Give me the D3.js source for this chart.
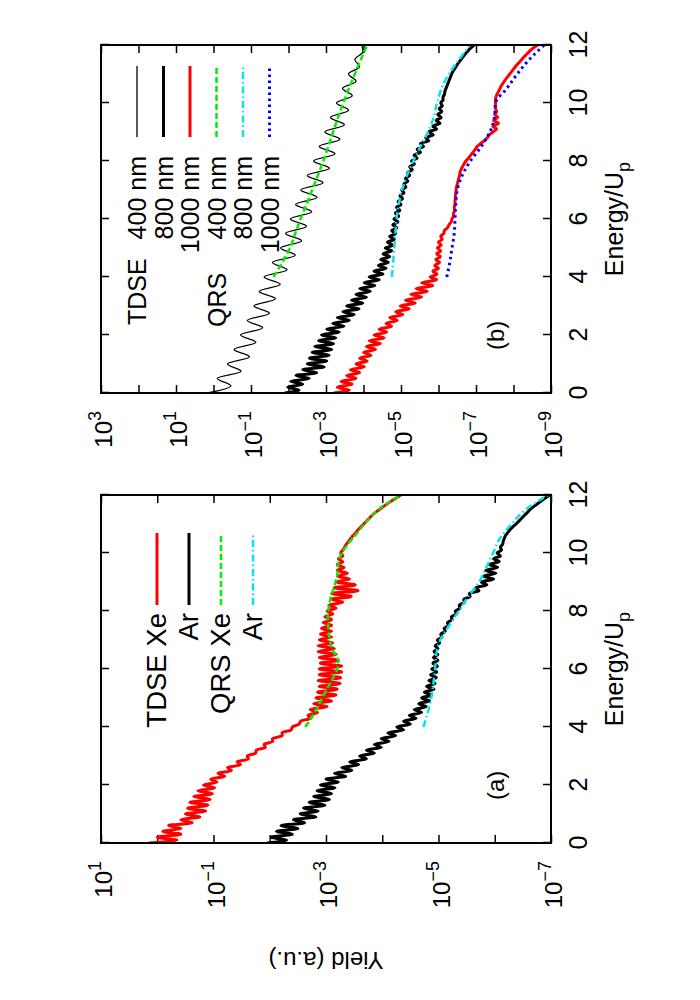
<!DOCTYPE html>
<html>
<head>
<meta charset="utf-8">
<script src="https://cdn.jsdelivr.net/npm/d3@7"></script>
<style>
  body { margin: 0; background: #fff; }
  svg { display: block; }
  text { font-family: "Liberation Sans", Arial, sans-serif; fill: #000; }
</style>
</head>
<body>
<div id="chart"></div>
<script>
// ---- data (yield given as log10 exponent) ----
var energyTicks = [0, 2, 4, 6, 8, 10, 12];
var decadesA = [1, 0, -1, -2, -3, -4, -5, -6, -7];
var labelExpA = [1, -1, -3, -5, -7];
var decadesB = [3, 2, 1, 0, -1, -2, -3, -4, -5, -6, -7, -8, -9];
var labelExpB = [3, 1, -1, -3, -5, -7, -9];

var TDSE_STEP = 0.1;      // energy step of the TDSE curves (Up)
var TDSE400_STEP = 0.25;  // 400 nm curve
var QRS_START = 4;
var QRS_STEP = 0.5;
var QRS_XE_STEP = 0.25;

// panel (a)
var tdseXe = [0.15,-0.35,0.0,-0.42,-0.1,-0.42,-0.2,-0.62,-0.42,-0.76,
  -0.5,-0.86,-0.54,-0.9,-0.58,-0.94,-0.65,-0.98,-0.72,-1.02,
  -0.82,-1.06,-0.95,-1.2,-1.08,-1.32,-1.25,-1.48,-1.42,-1.62,
  -1.6,-1.75,-1.76,-1.92,-1.9,-2.05,-2.05,-2.22,-2.22,-2.38,
  -2.4,-2.52,-2.55,-2.72,-2.68,-2.85,-2.72,-3.02,-2.78,-3.1,
  -2.82,-3.18,-2.85,-3.2,-2.88,-3.25,-2.86,-3.26,-2.88,-3.28,
  -2.88,-3.28,-2.9,-3.22,-2.88,-3.18,-2.86,-3.15,-2.86,-3.12,
  -2.88,-3.1,-2.9,-3.1,-2.92,-3.1,-2.95,-3.1,-2.98,-3.12,
  -3.02,-3.18,-3.05,-3.3,-3.1,-3.45,-3.1,-3.57,-3.15,-3.52,
  -3.18,-3.42,-3.2,-3.38,-3.2,-3.32,-3.2,-3.3,-3.22,-3.3,
  -3.26,-3.3,-3.33,-3.36,-3.4,-3.44,-3.48,-3.53,-3.57,-3.62,
  -3.67,-3.72,-3.77,-3.82,-3.88,-3.95,-4.02,-4.09,-4.17,-4.25,
  -4.33];
var tdseAr = [-1.95,-2.3,-2.02,-2.4,-2.12,-2.5,-2.2,-2.62,-2.42,-2.82,
  -2.54,-2.86,-2.6,-2.98,-2.7,-3.06,-2.78,-3.1,-2.84,-3.16,
  -2.9,-3.22,-3.0,-3.35,-3.15,-3.46,-3.28,-3.58,-3.42,-3.72,
  -3.6,-3.86,-3.72,-3.98,-3.86,-4.12,-3.98,-4.24,-4.1,-4.38,
  -4.26,-4.5,-4.38,-4.6,-4.48,-4.7,-4.57,-4.78,-4.65,-4.84,
  -4.7,-4.88,-4.75,-4.92,-4.79,-4.94,-4.83,-4.96,-4.86,-4.97,
  -4.88,-4.98,-4.9,-4.99,-4.91,-4.99,-4.92,-4.99,-4.94,-5.02,
  -4.98,-5.06,-5.04,-5.12,-5.1,-5.18,-5.16,-5.24,-5.23,-5.32,
  -5.3,-5.38,-5.37,-5.46,-5.45,-5.56,-5.55,-5.72,-5.66,-5.86,
  -5.76,-5.98,-5.8,-6.02,-5.84,-6.05,-5.9,-6.08,-5.98,-6.1,
  -6.04,-6.12,-6.1,-6.14,-6.15,-6.17,-6.19,-6.23,-6.27,-6.32,
  -6.38,-6.43,-6.48,-6.53,-6.58,-6.63,-6.69,-6.76,-6.83,-6.9,
  -6.98];
var qrsXe = [-2.63,-2.72,-2.8,-2.87,-2.93,-3.0,-3.07,-3.14,-3.2,-3.22,-3.16,
  -3.1,-3.07,-3.05,-3.04,-3.03,-3.04,-3.06,-3.09,-3.13,-3.17,-3.2,
  -3.21,-3.23,-3.28,-3.37,-3.47,-3.58,-3.68,-3.8,-3.93,-4.12,-4.35];
var qrsAr = [-4.73,-4.81,-4.87,-4.91,-4.94,-4.96,-5.03,-5.19,-5.36,-5.53,
  -5.72,-5.85,-5.97,-6.09,-6.3,-6.55,-6.95];

// panel (b)
var tdse400 = [0.17,-0.465,-0.1,-0.735,-0.37,-0.96,-0.55,-1.13,-0.72,-1.31,
  -0.9,-1.49,-1.08,-1.65,-1.22,-1.78,-1.35,-1.96,-1.57,-2.18,
  -1.79,-2.35,-1.92,-2.48,-2.05,-2.62,-2.19,-2.76,-2.33,-2.92,
  -2.5,-3.09,-2.67,-3.24,-2.82,-3.37,-2.97,-3.49,-3.12,-3.6,
  -3.28,-3.7,-3.44,-3.8,-3.6,-3.89,-3.77,-3.98,-3.95];
var tdse800 = [-1.9,-2.28,-1.98,-2.38,-2.06,-2.55,-2.2,-2.75,-2.38,-2.95,
  -2.5,-3.02,-2.56,-3.08,-2.63,-3.15,-2.7,-3.2,-2.8,-3.26,
  -2.88,-3.35,-3.02,-3.48,-3.18,-3.62,-3.3,-3.75,-3.45,-3.88,
  -3.55,-3.98,-3.68,-4.08,-3.8,-4.18,-3.9,-4.3,-4.02,-4.42,
  -4.15,-4.52,-4.28,-4.6,-4.4,-4.66,-4.46,-4.7,-4.52,-4.75,
  -4.58,-4.78,-4.64,-4.82,-4.7,-4.86,-4.75,-4.89,-4.78,-4.92,
  -4.81,-4.94,-4.85,-4.97,-4.88,-5.0,-4.92,-5.04,-4.97,-5.08,
  -5.02,-5.13,-5.07,-5.18,-5.12,-5.23,-5.18,-5.3,-5.23,-5.36,
  -5.28,-5.43,-5.35,-5.52,-5.43,-5.6,-5.52,-5.74,-5.66,-5.86,
  -5.74,-5.95,-5.85,-6.04,-5.94,-6.07,-5.98,-6.09,-6.02,-6.1,
  -6.06,-6.12,-6.12,-6.16,-6.17,-6.2,-6.23,-6.26,-6.29,-6.32,
  -6.35,-6.39,-6.44,-6.49,-6.54,-6.6,-6.66,-6.72,-6.79,-6.86,
  -6.95];
var tdse1000 = [-3.2,-3.62,-3.3,-3.7,-3.4,-3.8,-3.55,-3.9,-3.65,-4.02,
  -3.8,-4.1,-3.9,-4.2,-4.0,-4.32,-4.08,-4.45,-4.15,-4.55,
  -4.28,-4.62,-4.42,-4.75,-4.6,-4.9,-4.7,-5.05,-4.86,-5.22,
  -4.98,-5.38,-5.12,-5.55,-5.26,-5.7,-5.4,-5.85,-5.55,-5.95,
  -5.78,-5.96,-5.85,-6.0,-5.9,-6.03,-5.93,-6.05,-5.95,-6.06,
  -5.97,-6.07,-6.0,-6.1,-6.06,-6.14,-6.16,-6.24,-6.28,-6.34,
  -6.36,-6.4,-6.4,-6.43,-6.42,-6.44,-6.44,-6.45,-6.45,-6.46,
  -6.47,-6.48,-6.5,-6.52,-6.54,-6.56,-6.57,-6.6,-6.64,-6.68,
  -6.73,-6.8,-6.86,-6.92,-6.98,-7.03,-7.12,-7.22,-7.3,-7.35,
  -7.45,-7.55,-7.45,-7.6,-7.47,-7.58,-7.5,-7.55,-7.52,-7.52,
  -7.52,-7.52,-7.53,-7.56,-7.6,-7.64,-7.68,-7.73,-7.78,-7.84,
  -7.9,-7.96,-8.02,-8.08,-8.15,-8.22,-8.29,-8.36,-8.44,-8.53,
  -8.64];
var qrs400 = [-1.6,-1.83,-2.04,-2.18,-2.32,-2.48,-2.63,-2.78,-2.93,-3.06,
  -3.19,-3.32,-3.46,-3.61,-3.77,-3.93,-4.1];
var qrs800 = [-4.76,-4.79,-4.82,-4.85,-4.88,-4.94,-5.03,-5.16,-5.33,-5.52,
  -5.72,-5.87,-5.96,-6.08,-6.28,-6.55,-6.84];
var qrs1000 = [-6.22,-6.3,-6.36,-6.42,-6.44,-6.46,-6.5,-6.63,-6.85,-7.14,
  -7.37,-7.49,-7.52,-7.82,-8.1,-8.42,-8.82];

// ---- drawing ----
// the figure is laid out in its own frame (1000 wide, 700 high) and turned
// a quarter turn counter-clockwise onto the 700x1000 page
var svg = d3.select('#chart').append('svg')
    .attr('width', 700)
    .attr('height', 1000);

var fig = svg.append('g')
    .attr('transform', 'translate(0,1000) rotate(-90)');

var plotTop = 101, plotBottom = 551, plotW = 348;

function toPoints(vals, start, step) {
    return vals.map(function(v, i) { return { e: start + i * step, y: Math.pow(10, v) }; });
}

function drawPanel(p) {
    var x = d3.scaleLinear().domain([0, 12]).range([p.left, p.left + plotW]);
    var y = d3.scaleLog().domain(p.yDomain).range([plotTop, plotBottom]);
    var g = fig.append('g');

    g.append('clipPath').attr('id', 'clip' + p.id)
        .append('rect')
        .attr('x', p.left).attr('y', plotTop)
        .attr('width', plotW).attr('height', plotBottom - plotTop);

    // ticks on all four sides, pointing inwards
    function tidy(sel) {
        sel.select('.domain').remove();
        sel.selectAll('.tick line').attr('stroke', '#000').attr('stroke-width', 1.5);
    }
    g.append('g')
        .attr('transform', 'translate(0,' + plotBottom + ')')
        .call(d3.axisBottom(x).tickValues(energyTicks).tickSizeInner(-8).tickSizeOuter(0)
            .tickPadding(18).tickFormat(d3.format('d')))
        .call(tidy)
        .call(function(s) {
            s.attr('font-family', null).attr('font-size', null);
            s.selectAll('text').attr('font-size', 25);
        });
    g.append('g')
        .attr('transform', 'translate(0,' + plotTop + ')')
        .call(d3.axisTop(x).tickValues(energyTicks).tickSizeInner(-8).tickSizeOuter(0).tickFormat(''))
        .call(tidy);
    var decTicks = p.decades.map(function(d) { return Math.pow(10, d); });
    g.append('g')
        .attr('transform', 'translate(' + p.left + ',0)')
        .call(d3.axisLeft(y).tickValues(decTicks).tickSizeInner(-8).tickSizeOuter(0).tickFormat(''))
        .call(tidy);
    g.append('g')
        .attr('transform', 'translate(' + (p.left + plotW) + ',0)')
        .call(d3.axisRight(y).tickValues(decTicks).tickSizeInner(-8).tickSizeOuter(0).tickFormat(''))
        .call(tidy);

    // decade labels 10^n
    p.labelExp.forEach(function(n) {
        var t = g.append('text')
            .attr('x', p.left - 18)
            .attr('y', y(Math.pow(10, n)) + 11)
            .attr('text-anchor', 'end')
            .attr('font-size', 24);
        t.append('tspan').text('10');
        t.append('tspan').attr('dy', -11).attr('font-size', 18).text(String(n).replace('-', '\u2212'));
    });

    // x label
    var xl = g.append('text')
        .attr('x', p.left + plotW / 2)
        .attr('y', 623)
        .attr('text-anchor', 'middle')
        .attr('font-size', 25);
    xl.append('tspan').text('Energy/U');
    xl.append('tspan').attr('dy', 7).attr('font-size', 18).text('p');

    // curves
    var line = d3.line()
        .x(function(d) { return x(d.e); })
        .y(function(d) { return y(d.y); });
    var curves = g.append('g').attr('clip-path', 'url(#clip' + p.id + ')');
    p.series.forEach(function(s) {
        curves.append('path')
            .datum(s.points)
            .attr('fill', 'none')
            .attr('stroke', s.color)
            .attr('stroke-width', s.width)
            .attr('stroke-dasharray', s.dash || null)
            .attr('stroke-linejoin', 'round')
            .attr('d', line.curve(s.smooth ? d3.curveCatmullRom : d3.curveMonotoneX));
    });

    // legend
    p.series.forEach(function(s, i) {
        var ry = p.legend.top + i * p.legend.gap;
        g.append('text')
            .attr('x', p.legend.textX)
            .attr('y', ry + 9)
            .attr('text-anchor', 'end')
            .attr('font-size', p.legend.size)
            .text(s.label);
        g.append('line')
            .attr('x1', p.legend.lineX0).attr('x2', p.legend.lineX1)
            .attr('y1', ry).attr('y2', ry)
            .attr('stroke', s.color)
            .attr('stroke-width', s.width)
            .attr('stroke-dasharray', s.dash || null);
    });
    p.groupTitles.forEach(function(t) {
        g.append('text')
            .attr('x', t.x)
            .attr('y', p.legend.top + t.row * p.legend.gap + 9)
            .attr('font-size', p.legend.size)
            .text(t.text);
    });

    g.append('text')
        .attr('x', p.left + p.tagX)
        .attr('y', 504)
        .attr('font-size', 24)
        .text(p.tag);

    g.append('rect')
        .attr('x', p.left).attr('y', plotTop)
        .attr('width', plotW).attr('height', plotBottom - plotTop)
        .attr('fill', 'none')
        .attr('stroke', '#000')
        .attr('stroke-width', 2);
}

var dashed = '6,3', dashDot = '7,3,1.5,3', dotted = '2.5,3.5';

drawPanel({
    id: 'a', left: 157, yDomain: [10, 1e-7],
    decades: decadesA, labelExp: labelExpA, tag: '(a)', tagX: 43,
    legend: { top: 157, gap: 32, textX: 387, lineX0: 395, lineX1: 467, size: 27.5 },
    groupTitles: [],
    series: [
        { label: 'TDSE Xe', points: toPoints(tdseXe, 0, TDSE_STEP), color: '#ff0000', width: 3, smooth: true },
        { label: 'Ar', points: toPoints(tdseAr, 0, TDSE_STEP), color: '#000000', width: 3, smooth: true },
        { label: 'QRS Xe', points: toPoints(qrsXe, QRS_START, QRS_XE_STEP), color: '#00ee00', width: 2.5, dash: dashed },
        { label: 'Ar', points: toPoints(qrsAr, QRS_START, QRS_STEP), color: '#00e5ee', width: 2.5, dash: dashDot }
    ]
});

drawPanel({
    id: 'b', left: 607, yDomain: [1e3, 1e-9],
    decades: decadesB, labelExp: labelExpB, tag: '(b)', tagX: 43,
    legend: { top: 137, gap: 26.5, textX: 844, lineX0: 863, lineX1: 934, size: 25 },
    groupTitles: [{ text: 'TDSE', row: 0, x: 675 }, { text: 'QRS', row: 3, x: 673 }],
    series: [
        { label: '400 nm', points: toPoints(tdse400, 0, TDSE400_STEP), color: '#000000', width: 1.3, smooth: true },
        { label: '800 nm', points: toPoints(tdse800, 0, TDSE_STEP), color: '#000000', width: 3, smooth: true },
        { label: '1000 nm', points: toPoints(tdse1000, 0, TDSE_STEP), color: '#ff0000', width: 3, smooth: true },
        { label: '400 nm', points: toPoints(qrs400, QRS_START, QRS_STEP), color: '#00ee00', width: 2.5, dash: dashed },
        { label: '800 nm', points: toPoints(qrs800, QRS_START, QRS_STEP), color: '#00e5ee', width: 2.5, dash: dashDot },
        { label: '1000 nm', points: toPoints(qrs1000, QRS_START, QRS_STEP), color: '#0000ff', width: 3, dash: dotted }
    ]
});

// y label, only on the left panel
fig.append('text')
    .attr('transform', 'translate(48,326) rotate(-90)')
    .attr('text-anchor', 'middle')
    .attr('font-size', 24)
    .text('Yield (a.u.)');
</script>
</body>
</html>
